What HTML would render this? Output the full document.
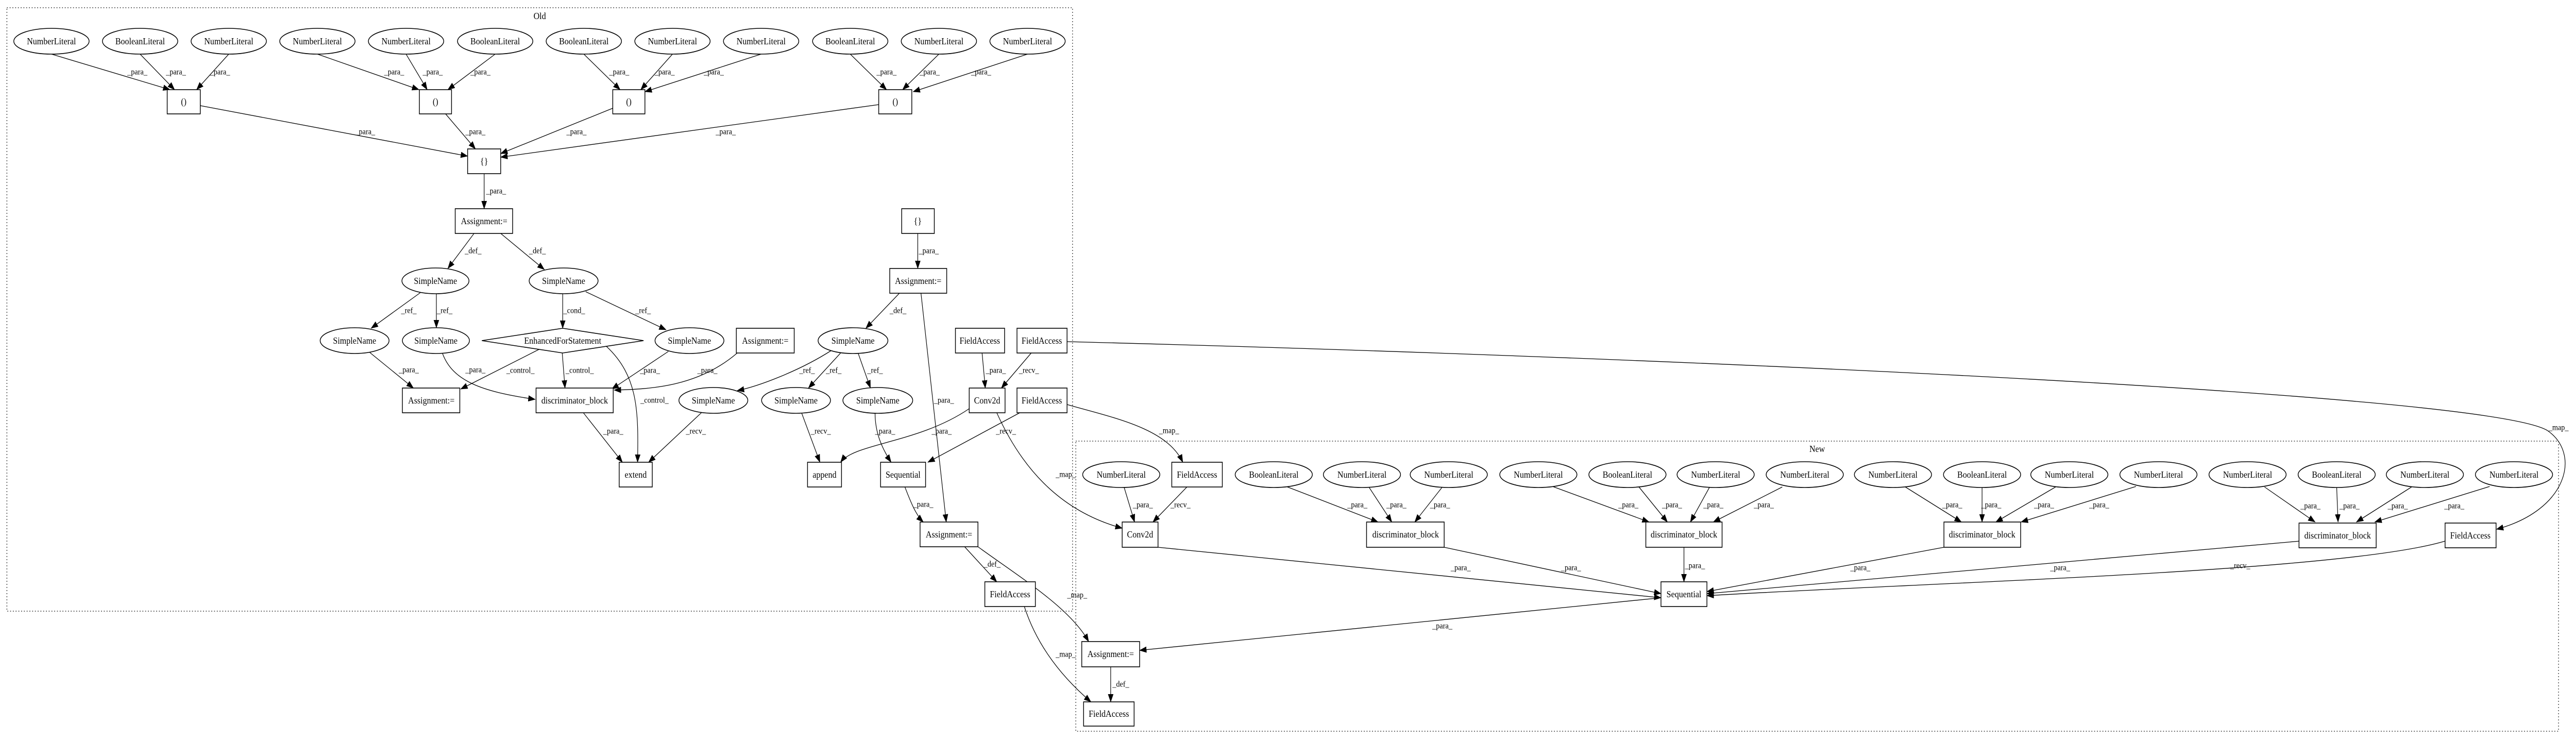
<!DOCTYPE html>
<html><head><meta charset="utf-8"><style>
html,body{margin:0;padding:0;background:#fff;width:100%;height:100%;overflow:hidden;}
svg{display:block;width:100vw;height:100vh;}
text{font-family:"Liberation Serif",serif;font-size:18px;fill:#000;text-anchor:middle;dominant-baseline:central;}
.l{font-size:16px;}
.n{fill:#fff;stroke:#000;stroke-width:1.6;}
.e{fill:none;stroke:#000;stroke-width:1.3;marker-end:url(#a);}
.c{fill:none;stroke:#000;stroke-width:1.2;stroke-dasharray:2,4;}
</style></head><body>
<svg viewBox="0 0 5608 1436" preserveAspectRatio="none" xmlns="http://www.w3.org/2000/svg" overflow="hidden">
<defs><marker id="a" markerUnits="userSpaceOnUse" markerWidth="16" markerHeight="12" refX="15" refY="6" orient="auto"><path d="M0,0 L16,6 L0,12 z" fill="#000"/></marker></defs>
<rect x="15" y="15" width="2320" height="1171" class="c"/>
<text x="1175" y="31">Old</text>
<rect x="2342" y="856" width="3228" height="563" class="c"/>
<text x="3956" y="871">New</text>

<path class="e" d="M112,105 L370,174"/><path class="e" d="M305,105 L380,174"/><path class="e" d="M498,105 L428,174"/>
<path class="e" d="M691,105 L912,174"/><path class="e" d="M884,105 L930,174"/><path class="e" d="M1078,105 L975,174"/>
<path class="e" d="M1271,105 L1350,174"/><path class="e" d="M1464,105 L1395,174"/><path class="e" d="M1657,105 L1404,178"/>
<path class="e" d="M1851,105 L1930,174"/><path class="e" d="M2044,105 L1965,174"/><path class="e" d="M2237,105 L1988,178"/>
<path class="e" d="M436,205 L1018,303"/><path class="e" d="M970,221 L1035,289"/><path class="e" d="M1334,210 L1090,298"/><path class="e" d="M1913,203 L1090,305"/>
<path class="e" d="M1054,337 L1054,405"/>
<path class="e" d="M1032,453 L975,521"/><path class="e" d="M1090,453 L1185,523"/>
<path class="e" d="M915,568 L808,637"/><path class="e" d="M950,569 L950,636"/>
<path class="e" d="M1225,569 L1225,637"/><path class="e" d="M1275,566 L1450,640"/>
<path class="e" d="M805,684 L900,753"/>
<path class="e" d="M963,685 C985,740 1050,760 1165,775"/>
<path class="e" d="M1180,675 L1003,755"/>
<path class="e" d="M1224,685 L1230,753"/>
<path class="e" d="M1320,672 C1390,730 1390,800 1388,897"/>
<path class="e" d="M1455,682 L1332,755"/>
<path class="e" d="M1605,685 C1520,750 1420,755 1337,757"/>
<path class="e" d="M1270,801 L1355,897"/>
<path class="e" d="M1528,800 L1412,897"/>
<path class="e" d="M1998,453 L1998,521"/>
<path class="e" d="M1958,569 L1885,637"/>
<path class="e" d="M2005,569 L2060,1013"/>
<path class="e" d="M1810,680 C1740,720 1650,750 1605,758"/>
<path class="e" d="M1830,685 L1760,753"/>
<path class="e" d="M1868,685 L1895,753"/>
<path class="e" d="M1745,801 L1785,897"/>
<path class="e" d="M1905,801 C1905,840 1920,870 1940,897"/>
<path class="e" d="M2138,685 L2145,753"/>
<path class="e" d="M2245,685 L2180,753"/>
<path class="e" d="M2110,793 C2000,860 1860,860 1830,897"/>
<path class="e" d="M2220,801 L2020,897"/>
<path class="e" d="M1970,945 C1985,980 1995,1000 2010,1013"/>
<path class="e" d="M2100,1061 L2170,1129"/>
<path class="e" d="M2170,801 C2220,900 2300,990 2443,1025"/>
<path class="e" d="M2323,785 C2420,810 2540,830 2575,897"/>
<path class="e" d="M2323,663 C3500,690 5400,760 5545,835 C5620,880 5590,990 5435,1027"/>
<path class="e" d="M2129,1061 C2220,1120 2330,1180 2370,1245"/>
<path class="e" d="M2230,1177 C2260,1260 2320,1320 2375,1362"/>
<path class="e" d="M2447,945 L2470,1013"/><path class="e" d="M2584,945 L2510,1013"/>
<path class="e" d="M2800,944 L3000,1013"/><path class="e" d="M2980,945 L3030,1013"/><path class="e" d="M3140,945 L3080,1013"/>
<path class="e" d="M3380,944 L3590,1013"/><path class="e" d="M3568,945 L3630,1013"/><path class="e" d="M3722,945 L3680,1013"/><path class="e" d="M3880,945 L3730,1013"/>
<path class="e" d="M4148,945 L4270,1013"/><path class="e" d="M4315,946 L4315,1013"/><path class="e" d="M4475,945 L4345,1013"/><path class="e" d="M4650,944 L4400,1013"/>
<path class="e" d="M4930,945 L5040,1013"/><path class="e" d="M5087,946 L5090,1013"/><path class="e" d="M5250,945 L5130,1013"/><path class="e" d="M5420,944 L5170,1013"/>
<path class="e" d="M2521,1062 L3616,1160"/><path class="e" d="M3144,1062 L3616,1152"/><path class="e" d="M3666,1062 L3666,1129"/>
<path class="e" d="M4232,1062 L3716,1148"/><path class="e" d="M5007,1050 L3716,1152"/>
<path class="e" d="M5323,1050 C5100,1110 4200,1130 3716,1156"/>
<path class="e" d="M3616,1160 L2481,1262"/>
<path class="e" d="M2418,1294 L2418,1362"/>

<text class="l" x="299" y="140">_para_</text><text class="l" x="383" y="140">_para_</text><text class="l" x="479" y="140">_para_</text>
<text class="l" x="858" y="140">_para_</text><text class="l" x="942" y="140">_para_</text><text class="l" x="1046" y="140">_para_</text>
<text class="l" x="1348" y="140">_para_</text><text class="l" x="1447" y="140">_para_</text><text class="l" x="1554" y="140">_para_</text>
<text class="l" x="1930" y="140">_para_</text><text class="l" x="2024" y="140">_para_</text><text class="l" x="2136" y="140">_para_</text>
<text class="l" x="795" y="256">_para_</text><text class="l" x="1035" y="256">_para_</text><text class="l" x="1255" y="256">_para_</text><text class="l" x="1580" y="256">_para_</text>
<text class="l" x="1080" y="371">_para_</text>
<text class="l" x="1030" y="487">_def_</text><text class="l" x="1170" y="487">_def_</text>
<text class="l" x="890" y="603">_ref_</text><text class="l" x="968" y="603">_ref_</text><text class="l" x="1250" y="603">_cond_</text><text class="l" x="1400" y="603">_ref_</text>
<text class="l" x="890" y="718">_para_</text><text class="l" x="1035" y="718">_para_</text><text class="l" x="1133" y="719">_control_</text><text class="l" x="1262" y="719">_control_</text>
<text class="l" x="1425" y="777">_control_</text><text class="l" x="1415" y="719">_para_</text><text class="l" x="1540" y="719">_para_</text>
<text class="l" x="1335" y="837">_para_</text><text class="l" x="1515" y="837">_recv_</text>
<text class="l" x="2022" y="487">_para_</text><text class="l" x="1955" y="603">_def_</text><text class="l" x="2055" y="777">_para_</text>
<text class="l" x="1757" y="719">_ref_</text><text class="l" x="1815" y="719">_ref_</text><text class="l" x="1905" y="719">_ref_</text>
<text class="l" x="1787" y="837">_recv_</text><text class="l" x="1927" y="837">_para_</text>
<text class="l" x="2168" y="719">_para_</text><text class="l" x="2240" y="719">_recv_</text>
<text class="l" x="2050" y="837">_para_</text><text class="l" x="2190" y="837">_recv_</text>
<text class="l" x="2010" y="979">_para_</text><text class="l" x="2160" y="1095">_def_</text>
<text class="l" x="2320" y="921">_map_</text><text class="l" x="2545" y="836">_map_</text><text class="l" x="5570" y="830">_map_</text>
<text class="l" x="2345" y="1155">_map_</text><text class="l" x="2320" y="1270">_map_</text>
<text class="l" x="2488" y="980">_para_</text><text class="l" x="2570" y="980">_recv_</text>
<text class="l" x="2955" y="980">_para_</text><text class="l" x="3040" y="980">_para_</text><text class="l" x="3135" y="980">_para_</text>
<text class="l" x="3545" y="980">_para_</text><text class="l" x="3640" y="980">_para_</text><text class="l" x="3730" y="980">_para_</text><text class="l" x="3840" y="980">_para_</text>
<text class="l" x="4250" y="980">_para_</text><text class="l" x="4335" y="980">_para_</text><text class="l" x="4450" y="980">_para_</text><text class="l" x="4570" y="980">_para_</text>
<text class="l" x="5030" y="982">_para_</text><text class="l" x="5115" y="982">_para_</text><text class="l" x="5220" y="982">_para_</text><text class="l" x="5343" y="982">_para_</text>
<text class="l" x="3180" y="1102">_para_</text><text class="l" x="3420" y="1102">_para_</text><text class="l" x="3690" y="1098">_para_</text>
<text class="l" x="4050" y="1102">_para_</text><text class="l" x="4485" y="1102">_para_</text><text class="l" x="4877" y="1098">_recv_</text>
<text class="l" x="3140" y="1215">_para_</text><text class="l" x="2440" y="1328">_def_</text>

<ellipse class="n" cx="112" cy="80" rx="82" ry="25"/><text x="112" y="80">NumberLiteral</text>
<ellipse class="n" cx="305" cy="80" rx="82" ry="25"/><text x="305" y="80">BooleanLiteral</text>
<ellipse class="n" cx="498" cy="80" rx="82" ry="25"/><text x="498" y="80">NumberLiteral</text>
<ellipse class="n" cx="691" cy="80" rx="82" ry="25"/><text x="691" y="80">NumberLiteral</text>
<ellipse class="n" cx="884" cy="80" rx="82" ry="25"/><text x="884" y="80">NumberLiteral</text>
<ellipse class="n" cx="1078" cy="80" rx="82" ry="25"/><text x="1078" y="80">BooleanLiteral</text>
<ellipse class="n" cx="1271" cy="80" rx="82" ry="25"/><text x="1271" y="80">BooleanLiteral</text>
<ellipse class="n" cx="1464" cy="80" rx="82" ry="25"/><text x="1464" y="80">NumberLiteral</text>
<ellipse class="n" cx="1657" cy="80" rx="82" ry="25"/><text x="1657" y="80">NumberLiteral</text>
<ellipse class="n" cx="1851" cy="80" rx="82" ry="25"/><text x="1851" y="80">BooleanLiteral</text>
<ellipse class="n" cx="2044" cy="80" rx="82" ry="25"/><text x="2044" y="80">NumberLiteral</text>
<ellipse class="n" cx="2237" cy="80" rx="82" ry="25"/><text x="2237" y="80">NumberLiteral</text>
<rect class="n" x="364" y="174" width="72" height="47"/><text x="400" y="197">()</text>
<rect class="n" x="913" y="174" width="70" height="47"/><text x="948" y="197">()</text>
<rect class="n" x="1334" y="174" width="70" height="47"/><text x="1369" y="197">()</text>
<rect class="n" x="1913" y="174" width="72" height="47"/><text x="1949" y="197">()</text>
<rect class="n" x="1018" y="289" width="72" height="48"/><text x="1054" y="313">{}</text>
<rect class="n" x="991" y="405" width="125" height="48"/><text x="1054" y="429">Assignment:=</text>
<ellipse class="n" cx="948" cy="545" rx="73" ry="25"/><text x="948" y="545">SimpleName</text>
<ellipse class="n" cx="1227" cy="545" rx="75" ry="25"/><text x="1227" y="545">SimpleName</text>
<ellipse class="n" cx="772" cy="661" rx="75" ry="25"/><text x="772" y="661">SimpleName</text>
<ellipse class="n" cx="949" cy="661" rx="73" ry="25"/><text x="949" y="661">SimpleName</text>
<polygon class="n" points="1049,661 1225,637 1401,661 1225,685"/><text x="1225" y="661">EnhancedForStatement</text>
<ellipse class="n" cx="1501" cy="661" rx="75" ry="25"/><text x="1501" y="661">SimpleName</text>
<rect class="n" x="1603" y="637" width="126" height="48"/><text x="1666" y="661">Assignment:=</text>
<ellipse class="n" cx="1857" cy="661" rx="76" ry="25"/><text x="1857" y="661">SimpleName</text>
<rect class="n" x="2080" y="637" width="107" height="48"/><text x="2133" y="661">FieldAccess</text>
<rect class="n" x="2214" y="637" width="109" height="48"/><text x="2268" y="661">FieldAccess</text>
<rect class="n" x="1963" y="405" width="71" height="48"/><text x="1998" y="429">{}</text>
<rect class="n" x="1937" y="521" width="124" height="48"/><text x="1999" y="545">Assignment:=</text>
<rect class="n" x="876" y="753" width="125" height="48"/><text x="939" y="777">Assignment:=</text>
<rect class="n" x="1167" y="753" width="168" height="48"/><text x="1251" y="777">discriminator_block</text>
<ellipse class="n" cx="1553" cy="777" rx="75" ry="25"/><text x="1553" y="777">SimpleName</text>
<ellipse class="n" cx="1733" cy="777" rx="75" ry="25"/><text x="1733" y="777">SimpleName</text>
<ellipse class="n" cx="1911" cy="777" rx="76" ry="25"/><text x="1911" y="777">SimpleName</text>
<rect class="n" x="2110" y="753" width="78" height="48"/><text x="2149" y="777">Conv2d</text>
<rect class="n" x="2214" y="753" width="109" height="48"/><text x="2268" y="777">FieldAccess</text>
<rect class="n" x="1348" y="897" width="72" height="48"/><text x="1384" y="921">extend</text>
<rect class="n" x="1758" y="897" width="74" height="48"/><text x="1795" y="921">append</text>
<rect class="n" x="1917" y="897" width="98" height="48"/><text x="1966" y="921">Sequential</text>
<rect class="n" x="2003" y="1013" width="126" height="48"/><text x="2066" y="1037">Assignment:=</text>
<rect class="n" x="2144" y="1129" width="110" height="48"/><text x="2199" y="1153">FieldAccess</text>

<ellipse class="n" cx="2441" cy="921" rx="84" ry="25"/><text x="2441" y="921">NumberLiteral</text>
<rect class="n" x="2551" y="897" width="110" height="48"/><text x="2606" y="921">FieldAccess</text>
<ellipse class="n" cx="2773" cy="921" rx="84" ry="25"/><text x="2773" y="921">BooleanLiteral</text>
<ellipse class="n" cx="2965" cy="921" rx="84" ry="25"/><text x="2965" y="921">NumberLiteral</text>
<ellipse class="n" cx="3154" cy="921" rx="84" ry="25"/><text x="3154" y="921">NumberLiteral</text>
<ellipse class="n" cx="3349" cy="921" rx="84" ry="25"/><text x="3349" y="921">NumberLiteral</text>
<ellipse class="n" cx="3543" cy="921" rx="84" ry="25"/><text x="3543" y="921">BooleanLiteral</text>
<ellipse class="n" cx="3735" cy="921" rx="84" ry="25"/><text x="3735" y="921">NumberLiteral</text>
<ellipse class="n" cx="3929" cy="921" rx="84" ry="25"/><text x="3929" y="921">NumberLiteral</text>
<ellipse class="n" cx="4121" cy="921" rx="84" ry="25"/><text x="4121" y="921">NumberLiteral</text>
<ellipse class="n" cx="4315" cy="921" rx="84" ry="25"/><text x="4315" y="921">BooleanLiteral</text>
<ellipse class="n" cx="4505" cy="921" rx="84" ry="25"/><text x="4505" y="921">NumberLiteral</text>
<ellipse class="n" cx="4699" cy="921" rx="84" ry="25"/><text x="4699" y="921">NumberLiteral</text>
<ellipse class="n" cx="4893" cy="921" rx="84" ry="25"/><text x="4893" y="921">NumberLiteral</text>
<ellipse class="n" cx="5087" cy="921" rx="84" ry="25"/><text x="5087" y="921">BooleanLiteral</text>
<ellipse class="n" cx="5279" cy="921" rx="84" ry="25"/><text x="5279" y="921">NumberLiteral</text>
<ellipse class="n" cx="5473" cy="921" rx="84" ry="25"/><text x="5473" y="921">NumberLiteral</text>
<rect class="n" x="2443" y="1013" width="78" height="49"/><text x="2482" y="1037">Conv2d</text>
<rect class="n" x="2975" y="1013" width="169" height="49"/><text x="3060" y="1037">discriminator_block</text>
<rect class="n" x="3583" y="1013" width="166" height="49"/><text x="3666" y="1037">discriminator_block</text>
<rect class="n" x="4232" y="1013" width="167" height="49"/><text x="4315" y="1037">discriminator_block</text>
<rect class="n" x="5005" y="1015" width="168" height="48"/><text x="5089" y="1039">discriminator_block</text>
<rect class="n" x="5323" y="1015" width="111" height="48"/><text x="5378" y="1039">FieldAccess</text>
<rect class="n" x="3616" y="1129" width="100" height="48"/><text x="3666" y="1153">Sequential</text>
<rect class="n" x="2355" y="1245" width="126" height="49"/><text x="2418" y="1269">Assignment:=</text>
<rect class="n" x="2359" y="1362" width="110" height="47"/><text x="2414" y="1385">FieldAccess</text>
</svg>
</body></html>
